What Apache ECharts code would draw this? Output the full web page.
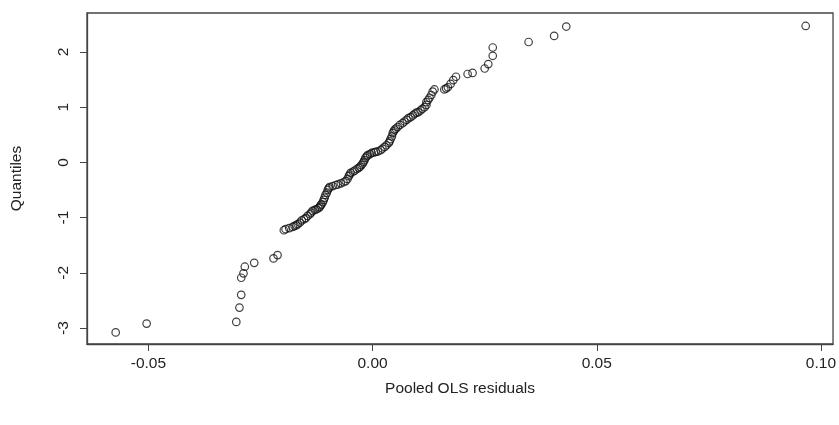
<!DOCTYPE html>
<html>
<head>
<meta charset="utf-8">
<script src="https://cdn.jsdelivr.net/npm/echarts@6/dist/echarts.min.js"></script>
<style>
  html, body { margin: 0; padding: 0; background: #fff; }
  #main { width: 839px; height: 425px; }
</style>
</head>
<body>
<div id="main"></div>
<script>
// residuals (sorted)
const residuals = [
  -0.0573, -0.0504, -0.0304, -0.0297, -0.0293, -0.0293, -0.0288, -0.0285, -0.0264,
  -0.0221, -0.0212, -0.0198, -0.0194, -0.0186, -0.0178, -0.0174, -0.0170, -0.0167,
  -0.0162, -0.0158, -0.0153, -0.0149, -0.0145, -0.0140, -0.0137, -0.0134, -0.0129,
  -0.0125, -0.0121, -0.0118, -0.0116, -0.0114, -0.0111, -0.0109, -0.0107, -0.0105,
  -0.0102, -0.0100, -0.0098, -0.0096, -0.0089, -0.0082, -0.0077, -0.0071, -0.0065,
  -0.0060, -0.0056, -0.0053, -0.0051, -0.0049, -0.0044, -0.0040, -0.0035, -0.0031,
  -0.0028, -0.0025, -0.0022, -0.0020, -0.0018, -0.0016, -0.0013, -0.0011, -0.0006,
  -0.0002, 0.0003, 0.0007, 0.0012, 0.0018, 0.0022, 0.0027, 0.0031, 0.0036, 0.0038,
  0.0040, 0.0043, 0.0045, 0.0047, 0.0049, 0.0052, 0.0056, 0.0061, 0.0067, 0.0071,
  0.0076, 0.0080, 0.0085, 0.0090, 0.0094, 0.0098, 0.0102, 0.0107, 0.0111, 0.0116,
  0.0120, 0.0120, 0.0124, 0.0127, 0.0131, 0.0134, 0.0138, 0.0160, 0.0164, 0.0168,
  0.0174, 0.0180, 0.0186, 0.0212, 0.0223, 0.0250, 0.0258, 0.0268, 0.0268, 0.0348,
  0.0405, 0.0432, 0.0966
];
// theoretical normal quantiles matching each residual
const quantiles = [
  -3.08, -2.92, -2.89, -2.63, -2.40, -2.09, -2.01, -1.89, -1.82,
  -1.74, -1.68, -1.23, -1.21, -1.19, -1.17, -1.15, -1.14, -1.12,
  -1.09, -1.05, -1.03, -1.01, -0.97, -0.94, -0.91, -0.88, -0.86,
  -0.85, -0.83, -0.81, -0.78, -0.76, -0.72, -0.68, -0.64, -0.59,
  -0.55, -0.50, -0.47, -0.45, -0.43, -0.41, -0.40, -0.38, -0.36,
  -0.34, -0.30, -0.25, -0.22, -0.19, -0.17, -0.15, -0.12, -0.10,
  -0.08, -0.05, -0.02, 0.01, 0.04, 0.08, 0.11, 0.13, 0.15,
  0.17, 0.18, 0.19, 0.20, 0.22, 0.25, 0.28, 0.31, 0.35, 0.38,
  0.42, 0.47, 0.53, 0.56, 0.59, 0.61, 0.64, 0.68, 0.71, 0.74,
  0.77, 0.80, 0.82, 0.85, 0.88, 0.90, 0.91, 0.94, 0.97, 1.00,
  1.04, 1.09, 1.13, 1.17, 1.22, 1.28, 1.32, 1.32, 1.34, 1.36,
  1.42, 1.49, 1.55, 1.60, 1.62, 1.70, 1.78, 1.93, 2.08, 2.18,
  2.29, 2.46, 2.47
];
const xTicks = [-0.05, 0, 0.05, 0.1];
const xTickLabels = ['-0.05', '0.00', '0.05', '0.10'];
const yTicks = [-3, -2, -1, 0, 1, 2];

const points = residuals.map((r, i) => [r, quantiles[i]]);

const chart = echarts.init(document.getElementById('main'));
const textStyle = { color: '#222', fontFamily: 'Liberation Sans, Arial, sans-serif', fontSize: 15.5 };

chart.setOption({
  animation: false,
  grid: {
    left: 87, right: 5, top: 13, bottom: 81,
    show: true, borderColor: '#444', borderWidth: 1.3, backgroundColor: '#fff'
  },
  xAxis: {
    type: 'value',
    min: -0.0637, max: 0.1027,
    name: 'Pooled OLS residuals',
    nameLocation: 'middle',
    nameGap: 37,
    nameTextStyle: textStyle,
    axisLine: { show: true, onZero: false, lineStyle: { color: '#444', width: 1.3 } },
    axisTick: { show: true, inside: false, length: 7, customValues: xTicks, lineStyle: { color: '#444' } },
    axisLabel: Object.assign({
      customValues: xTicks,
      margin: 12,
      formatter: v => xTickLabels[xTicks.findIndex(t => Math.abs(t - v) < 1e-9)] || ''
    }, textStyle),
    splitLine: { show: false }
  },
  yAxis: {
    type: 'value',
    min: -3.29, max: 2.705,
    name: 'Quantiles',
    nameLocation: 'middle',
    nameGap: 62,
    nameTextStyle: textStyle,
    axisLine: { show: true, onZero: false, lineStyle: { color: '#444', width: 1.3 } },
    axisTick: { show: true, inside: false, length: 7, customValues: yTicks, lineStyle: { color: '#444' } },
    axisLabel: Object.assign({
      customValues: yTicks,
      rotate: 90,
      margin: 15,
      formatter: v => String(v)
    }, textStyle),
    splitLine: { show: false }
  },
  series: [{
    type: 'scatter',
    data: points,
    symbol: 'circle',
    symbolSize: 7.5,
    itemStyle: { color: 'rgba(255,255,255,0)', borderColor: '#111', borderWidth: 1.2 }
  }]
});
</script>
</body>
</html>
